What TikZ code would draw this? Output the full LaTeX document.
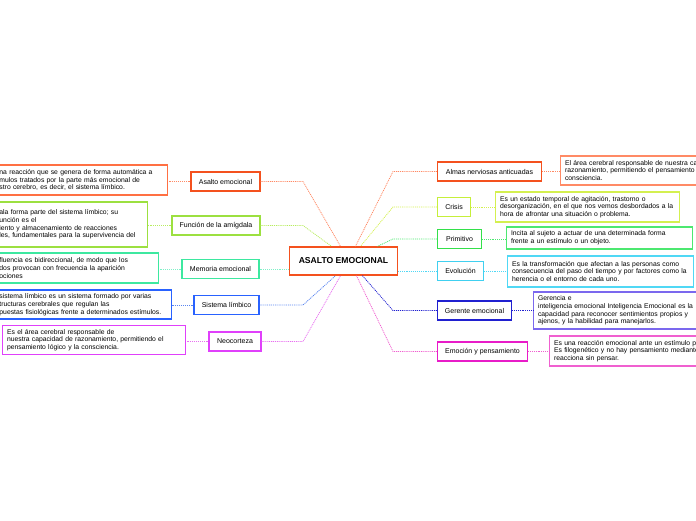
\documentclass[tikz,border=0pt]{standalone}
\usepackage{fontspec}
\setmainfont{Liberation Sans}
\usetikzlibrary{shadows}
\definecolor{hubline}{HTML}{F4511E}
\definecolor{asaltoC}{HTML}{F4511E}
\definecolor{asaltoN}{HTML}{FF7043}
\definecolor{asaltoL}{HTML}{FF8A65}
\definecolor{funcionC}{HTML}{9CE040}
\definecolor{funcionL}{HTML}{B8EC60}
\definecolor{memoriaC}{HTML}{3DE8A0}
\definecolor{memoriaL}{HTML}{80F0C8}
\definecolor{sistemaC}{HTML}{2962FF}
\definecolor{sistemaL}{HTML}{5A85F0}
\definecolor{neoC}{HTML}{E040FB}
\definecolor{neoL}{HTML}{E870F0}
\definecolor{almasC}{HTML}{F4511E}
\definecolor{almasN}{HTML}{FF8A65}
\definecolor{crisisC}{HTML}{C6EF3A}
\definecolor{crisisN}{HTML}{D4F050}
\definecolor{primC}{HTML}{33E04A}
\definecolor{primN}{HTML}{4CE870}
\definecolor{evolC}{HTML}{40D0F0}
\definecolor{evolN}{HTML}{50D8F5}
\definecolor{gerenteC}{HTML}{2020D0}
\definecolor{gerenteN}{HTML}{7B68EE}
\definecolor{emocionC}{HTML}{E81CC8}
\definecolor{emocionN}{HTML}{F060D0}
\tikzset{
  boxshadow/.style={drop shadow={opacity=0.25,shadow xshift=0.8pt,shadow yshift=-0.8pt}},
  hub/.style={draw=hubline,line width=1.4pt,fill=white,boxshadow,minimum width=108pt,minimum height=28pt,font=\fontsize{8.6}{10}\selectfont\bfseries},
  topic/.style={draw=#1,line width=1.1pt,fill=white,boxshadow,minimum height=19pt,inner xsep=4pt,font=\fontsize{7}{8}\selectfont},
  note/.style={draw=#1,line width=1.1pt,fill=white,boxshadow,align=left,inner xsep=4.5pt,inner ysep=2pt,font=\fontsize{6.8}{7.7}\selectfont},
  link/.style={draw=#1,dash pattern=on 1pt off 0.9pt,line width=0.8pt},
}
\begin{document}
\begin{tikzpicture}[x=1pt,y=-1pt]
  \useasboundingbox (0,0) rectangle (696,520);
  \clip (0,0) rectangle (696,520);
  \coordinate (elbowL) at (303,0);
  \coordinate (elbowR) at (393,0);
  % central topic
  \node[hub] (hub) at (343.5,261) {ASALTO EMOCIONAL};
  % left branches
  \node[topic=asaltoC,minimum width=69pt] (asalto) at (225.5,181.5) {Asalto emocional};
  \node[topic=funcionC,minimum width=88pt] (funcion) at (216,225.5) {Función de la amígdala};
  \node[topic=memoriaC,minimum width=77pt] (memoria) at (220.5,269) {Memoria emocional};
  \node[topic=sistemaC,minimum width=65pt] (sistema) at (226.5,305) {Sistema límbico};
  \node[topic=neoC,minimum width=52pt] (neo) at (235,341.5) {Neocorteza};
  % left notes
  \node[note=asaltoN,anchor=east,text width=163.5pt,minimum height=30pt] (asaltoNota) at (168,180)
    {na reacción que se genera de forma automática a\\mulos tratados por la parte más emocional de\\stro cerebro, es decir, el sistema límbico.};
  \node[note=funcionC,anchor=east,text width=143.5pt,minimum height=45pt] (funcionNota) at (148,224.5)
    {ala forma parte del sistema límbico; su\\unción es el\\iento y almacenamiento de reacciones\\les, fundamentales para la supervivencia del};
  \node[note=memoriaC,anchor=east,text width=154.5pt,minimum height=30pt] (memoriaNota) at (159,268)
    {fluencia es bidireccional, de modo que los\\dos provocan con frecuencia la aparición\\ociones};
  \node[note=sistemaC,anchor=east,text width=167.5pt,minimum height=29pt] (sistemaNota) at (172,304.5)
    {sistema límbico es un sistema formado por varias\\tructuras cerebrales que regulan las\\puestas fisiológicas frente a determinados estímulos.};
  \node[note=neoC,anchor=west,text width=174pt,minimum height=29pt] (neoNota) at (2,340)
    {Es el área cerebral responsable de\\nuestra capacidad de razonamiento, permitiendo el\\pensamiento lógico y la consciencia.};
  % right branches
  \node[topic=almasC,minimum width=104pt] (almas) at (489.5,171.5) {Almas nerviosas anticuadas};
  \node[topic=crisisC,minimum width=33pt] (crisis) at (454,207) {Crisis};
  \node[topic=primC,minimum width=44pt] (prim) at (459.5,239) {Primitivo};
  \node[topic=evolC,minimum width=46pt] (evol) at (460.5,271) {Evolución};
  \node[topic=gerenteC,minimum width=74pt] (gerente) at (474.5,310.5) {Gerente emocional};
  \node[topic=emocionC,minimum width=90pt] (emocion) at (482.5,351.5) {Emoción y pensamiento};
  % right notes
  \node[note=almasN,anchor=west,text width=200pt,minimum height=29pt] (almasNota) at (560,170.5)
    {El área cerebral responsable de nuestra capacidad de\\razonamiento, permitiendo el pensamiento lógico y la\\consciencia.};
  \node[note=crisisN,anchor=west,text width=175pt,minimum height=30pt] (crisisNota) at (495,207)
    {Es un estado temporal de agitación, trastorno o\\desorganización, en el que nos vemos desbordados a la\\hora de afrontar una situación o problema.};
  \node[note=primN,anchor=west,text width=177pt,minimum height=22pt] (primNota) at (506,238)
    {Incita al sujeto a actuar de una determinada forma\\frente a un estímulo o un objeto.};
  \node[note=evolN,anchor=west,text width=177pt,minimum height=31pt] (evolNota) at (507,271.5)
    {Es la transformación que afectan a las personas como\\consecuencia del paso del tiempo y por factores como la\\herencia o el entorno de cada uno.};
  \node[note=gerenteN,anchor=west,text width=190pt,minimum height=37pt] (gerenteNota) at (533,310.5)
    {Gerencia e\\inteligencia emocional Inteligencia Emocional es la\\capacidad para reconocer sentimientos propios y\\ajenos, y la habilidad para manejarlos.};
  \node[note=emocionN,anchor=west,text width=200pt,minimum height=30pt] (emocionNota) at (549,351)
    {Es una reacción emocional ante un estímulo percibido.\\Es filogenético y no hay pensamiento mediante el cual se\\reacciona sin pensar.};
  % connectors to the central topic
  \draw[link=asaltoL] (asalto.east) -- (asalto.east -| elbowL) -- ([xshift=-3pt]hub.north);
  \draw[link=funcionL] (funcion.east) -- (funcion.east -| elbowL) -- ([xshift=-12pt]hub.north);
  \draw[link=memoriaL] (memoria.east) -- (memoria.east -| hub.west);
  \draw[link=sistemaL] (sistema.east) -- (sistema.east -| elbowL) -- ([xshift=-8pt]hub.south);
  \draw[link=neoL] (neo.east) -- (neo.east -| elbowL) -- ([xshift=-3pt]hub.south);
  \draw[link=asaltoL] (almas.west) -- (almas.west -| elbowR) -- ([xshift=12pt]hub.north);
  \draw[link=crisisN] (crisis.west) -- (crisis.west -| elbowR) -- ([xshift=17pt]hub.north);
  \draw[link=primN] (prim.west) -- (prim.west -| elbowR) -- ([xshift=34pt]hub.north);
  \draw[link=evolN] (evol.west) -- (evol.west -| hub.east);
  \draw[link=gerenteC] (gerente.west) -- (gerente.west -| elbowR) -- ([xshift=19pt]hub.south);
  \draw[link=emocionN] (emocion.west) -- (emocion.west -| elbowR) -- ([xshift=13pt]hub.south);
  % connectors to the notes
  \draw[link=asaltoL] (asalto.west) -- (asalto.west -| asaltoNota.east);
  \draw[link=funcionL] (funcion.west) -- (funcion.west -| funcionNota.east);
  \draw[link=memoriaL] (memoria.west) -- (memoria.west -| memoriaNota.east);
  \draw[link=sistemaL] (sistema.west) -- (sistema.west -| sistemaNota.east);
  \draw[link=neoL] (neo.west) -- (neo.west -| neoNota.east);
  \draw[link=asaltoL] (almas.east) -- (almas.east -| almasNota.west);
  \draw[link=crisisN] (crisis.east) -- (crisis.east -| crisisNota.west);
  \draw[link=primN] (prim.east) -- (prim.east -| primNota.west);
  \draw[link=evolN] (evol.east) -- (evol.east -| evolNota.west);
  \draw[link=gerenteC] (gerente.east) -- (gerente.east -| gerenteNota.west);
  \draw[link=emocionN] (emocion.east) -- (emocion.east -| emocionNota.west);
\end{tikzpicture}
\end{document}
